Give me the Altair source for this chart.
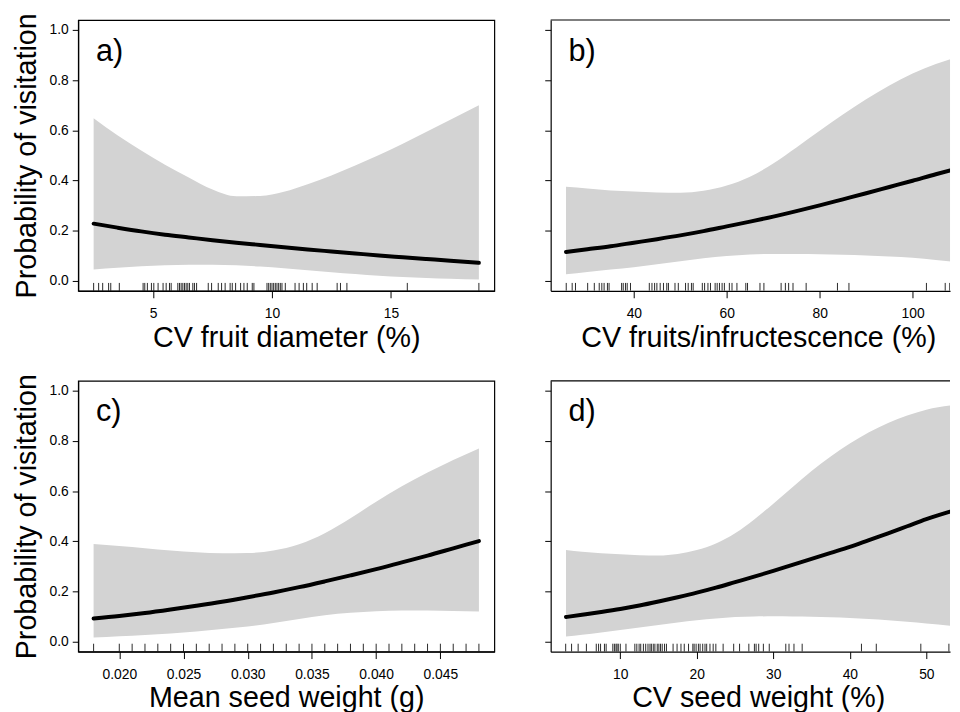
import altair as alt
import pandas as pd

FONT = "Liberation Sans"

# ---------------- Panel a: CV fruit diameter (%) ----------------
a_x = [2.5, 3.5, 4.5, 5.5, 6.5, 7.5, 8.5, 9.5, 10.5, 11.5, 12.5, 13.5, 14.5, 15.5, 16.5, 17.5, 18.7]
a_fit = [0.228, 0.212, 0.197, 0.184, 0.173, 0.162, 0.152, 0.143, 0.134, 0.125, 0.117, 0.109, 0.101, 0.094, 0.087, 0.080, 0.072]
a_lo = [0.045, 0.052, 0.058, 0.062, 0.064, 0.064, 0.062, 0.057, 0.050, 0.042, 0.034, 0.027, 0.020, 0.015, 0.011, 0.008, 0.005]
a_hi = [0.648, 0.580, 0.520, 0.463, 0.412, 0.364, 0.337, 0.338, 0.355, 0.385, 0.420, 0.460, 0.502, 0.547, 0.594, 0.642, 0.700]
a_rug = [2.5, 2.71, 2.88, 3.13, 3.22, 3.58, 4.58, 4.65, 4.76, 4.93, 5.03, 5.21, 5.42, 5.55, 5.69, 5.76,
         6.04, 6.11, 6.18, 6.25, 6.32, 6.39, 6.46, 6.53, 6.67, 6.74, 6.83, 7.32, 7.46, 7.74, 7.88, 8.03,
         8.24, 8.33, 8.47, 8.68, 8.82, 8.96, 9.17, 9.24, 9.79, 9.86, 9.93, 10.0, 10.07, 10.14, 10.21,
         10.28, 10.35, 10.42, 10.56, 10.97, 11.14, 11.32, 11.46, 11.69, 11.9, 12.74, 12.88, 13.15, 15.69, 18.7]
a_ticks = [5, 10, 15]

# ---------------- Panel b: CV fruits/infructescence (%) ----------------
b_x = [25.4, 30, 35, 40, 45, 50, 55, 60, 65, 70, 75, 80, 85, 90, 95, 100, 105, 108.3]
b_fit = [0.115, 0.126, 0.138, 0.152, 0.166, 0.181, 0.198, 0.217, 0.236, 0.256, 0.278, 0.301, 0.325, 0.349, 0.374, 0.399, 0.425, 0.441]
b_lo = [0.026, 0.035, 0.045, 0.054, 0.066, 0.078, 0.090, 0.099, 0.105, 0.107, 0.107, 0.106, 0.104, 0.101, 0.097, 0.092, 0.083, 0.077]
b_hi = [0.375, 0.368, 0.360, 0.356, 0.352, 0.351, 0.359, 0.380, 0.415, 0.468, 0.532, 0.598, 0.663, 0.724, 0.779, 0.827, 0.865, 0.885]
b_rug = [25.45, 26.73, 27.44, 30.06, 31.49, 32.55, 33.11, 33.6, 34.32, 34.67, 37.37, 37.72, 38.2, 38.57,
         39.28, 43.33, 43.9, 44.47, 44.96, 45.67, 46.38, 47.09, 47.45, 48.86, 49.57, 51.13, 51.7, 52.4,
         52.77, 54.74, 55.23, 55.95, 56.5, 57.5, 57.94, 58.43, 59.0, 59.49, 60.56, 61.13, 62.19, 64.1,
         64.47, 67.15, 68.0, 71.7, 72.62, 73.32, 74.26, 77.09, 83.83, 86.3, 102.98, 107.02, 108.0]
b_ticks = [40, 60, 80, 100]

# ---------------- Panel c: Mean seed weight (g) ----------------
c_x = [0.018, 0.020, 0.022, 0.024, 0.026, 0.028, 0.030, 0.032, 0.034, 0.036, 0.038, 0.040, 0.042, 0.044, 0.046, 0.048]
c_fit = [0.092, 0.102, 0.114, 0.128, 0.143, 0.159, 0.177, 0.196, 0.217, 0.240, 0.264, 0.289, 0.316, 0.343, 0.372, 0.401]
c_lo = [0.016, 0.021, 0.026, 0.032, 0.040, 0.050, 0.060, 0.074, 0.090, 0.105, 0.115, 0.121, 0.124, 0.124, 0.122, 0.120]
c_hi = [0.389, 0.381, 0.372, 0.363, 0.356, 0.352, 0.353, 0.363, 0.388, 0.432, 0.492, 0.558, 0.619, 0.674, 0.724, 0.770]
c_rug = [0.018, 0.020, 0.021, 0.022, 0.023, 0.024, 0.025, 0.026, 0.027, 0.028, 0.029, 0.030, 0.031, 0.032,
         0.033, 0.034, 0.035, 0.036, 0.037, 0.038, 0.039, 0.040, 0.041, 0.042, 0.043, 0.044, 0.045, 0.046,
         0.047, 0.048]
c_ticks = [0.020, 0.025, 0.030, 0.035, 0.040, 0.045]

# ---------------- Panel d: CV seed weight (%) ----------------
d_x = [2.9, 5, 7.5, 10, 12.5, 15, 17.5, 20, 22.5, 25, 27.5, 30, 32.5, 35, 37.5, 40, 42.5, 45, 47.5, 50, 53.1]
d_fit = [0.098, 0.107, 0.118, 0.130, 0.144, 0.160, 0.177, 0.195, 0.215, 0.237, 0.259, 0.282, 0.306, 0.330,
         0.354, 0.378, 0.405, 0.432, 0.460, 0.488, 0.518]
d_lo = [0.020, 0.027, 0.036, 0.046, 0.056, 0.066, 0.076, 0.085, 0.092, 0.098, 0.100, 0.101, 0.100, 0.099,
        0.097, 0.094, 0.090, 0.085, 0.079, 0.072, 0.063]
d_hi = [0.365, 0.358, 0.352, 0.348, 0.344, 0.343, 0.349, 0.365, 0.391, 0.432, 0.487, 0.550, 0.615, 0.680,
        0.738, 0.790, 0.835, 0.872, 0.902, 0.925, 0.941]
d_rug = [2.86, 3.63, 4.49, 5.57, 6.86, 7.16, 7.42, 7.93, 8.15, 9.02, 9.23, 9.44, 9.57, 9.74, 10.0, 10.74,
         11.9, 12.16, 12.46, 12.67, 13.02, 13.32, 13.62, 13.88, 14.06, 14.31, 14.52, 14.83, 15.04, 15.26,
         15.48, 15.78, 16.03, 16.9, 17.42, 17.93, 18.36, 18.92, 19.48, 19.65, 19.91, 20.21, 20.43, 20.77,
         21.07, 21.29, 21.72, 22.14, 22.49, 23.44, 24.82, 25.59, 26.8, 27.53, 27.75, 28.09, 28.7, 29.47,
         31.63, 32.05, 32.7, 33.77, 41.52, 43.46, 49.28, 52.95]
d_ticks = [10, 20, 30, 40, 50]

y_ticks = [0.0, 0.2, 0.4, 0.6, 0.8, 1.0]

H = 274
W_LEFT = 421
W_RIGHT = 404   # right-hand panels run off the page edge in the original

AX = dict(labelFont=FONT, titleFont=FONT, labelFontSize=14, titleFontSize=29, titleFontWeight="normal",
          labelColor="black", titleColor="black", tickColor="black", domainColor="black",
          tickWidth=1, domainWidth=1.2, grid=False)


def panel(xs, fit, lo, hi, rug, xdomain, xticks, xfmt, xtitle, letter, width, left):
    df = pd.DataFrame({"x": xs, "fit": fit, "lo": lo, "hi": hi})
    rdf = pd.DataFrame({"x": rug})
    ldf = pd.DataFrame({"t": [letter]})
    clip = not left
    xs_ = alt.Scale(domain=xdomain, nice=False, zero=False)
    ys_ = alt.Scale(domain=[-0.04, 1.04], nice=False, zero=False)
    xkw = dict(values=xticks, format=xfmt, title=xtitle, tickSize=7, labelPadding=9, titlePadding=3, **AX)
    if not left:
        xkw["titleX"] = 210
    xaxis = alt.Axis(**xkw)
    if left:
        yaxis = alt.Axis(values=y_ticks, format=".1f", title="Probability of visitation",
                         tickSize=6, labelPadding=4, titlePadding=8, **AX)
    else:
        yaxis = alt.Axis(values=y_ticks, labels=False, title=None, tickSize=6, **AX)

    band = alt.Chart(df).mark_area(color="#D3D3D3", interpolate="monotone", clip=clip).encode(
        x=alt.X("x:Q", scale=xs_, axis=xaxis),
        y=alt.Y("lo:Q", scale=ys_, axis=yaxis),
        y2="hi:Q",
    )
    line = alt.Chart(df).mark_line(color="black", strokeWidth=4, strokeCap="round",
                                   interpolate="monotone", clip=clip).encode(
        x=alt.X("x:Q", scale=xs_),
        y=alt.Y("fit:Q", scale=ys_),
    )
    rugs = alt.Chart(rdf).mark_rule(color="#111111", strokeWidth=0.9, clip=clip).encode(
        x=alt.X("x:Q", scale=xs_),
        y=alt.value(H - 8),
        y2=alt.value(H),
    )
    lab = alt.Chart(ldf).mark_text(font=FONT, fontSize=31, align="left", baseline="alphabetic",
                                   color="black").encode(
        text="t:N", x=alt.value(18), y=alt.value(41)
    )
    layers = [band, line, rugs, lab]
    if left:
        return alt.layer(*layers).properties(width=width, height=H)
    top = alt.Chart(ldf).mark_rule(color="black", strokeWidth=1.2).encode(
        x=alt.value(0), x2=alt.value(width), y=alt.value(0)
    )
    layers.append(top)
    return alt.layer(*layers).properties(width=width, height=H,
                                         view=alt.ViewBackground(stroke="transparent"))


pa = panel(a_x, a_fit, a_lo, a_hi, a_rug, [1.85, 19.35], a_ticks, "d", "CV fruit diameter (%)", "a)",
           W_LEFT, True)
pb = panel(b_x, b_fit, b_lo, b_hi, b_rug, [22.1, 22.1 + W_RIGHT / 4.7], b_ticks, "d",
           "CV fruits/infructescence (%)", "b)", W_RIGHT, False)
pc = panel(c_x, c_fit, c_lo, c_hi, c_rug, [0.0168, 0.0492], c_ticks, ".3f", "Mean seed weight (g)", "c)",
           W_LEFT, True)
pd_ = panel(d_x, d_fit, d_lo, d_hi, d_rug, [0.9, 0.9 + W_RIGHT / 7.74], d_ticks, "d", "CV seed weight (%)",
            "d)", W_RIGHT, False)

top_row = alt.hconcat(pa, pb, spacing=48)
bottom_row = alt.hconcat(pc, pd_, spacing=48)

chart = alt.vconcat(top_row, bottom_row, spacing=20).properties(
    padding={"left": 3, "top": 0, "right": 0, "bottom": 0},
    background="white",
).configure_view(
    stroke="black", strokeWidth=1.2
)

chart.save("out.html", embed_options={"renderer": "svg", "actions": False})
